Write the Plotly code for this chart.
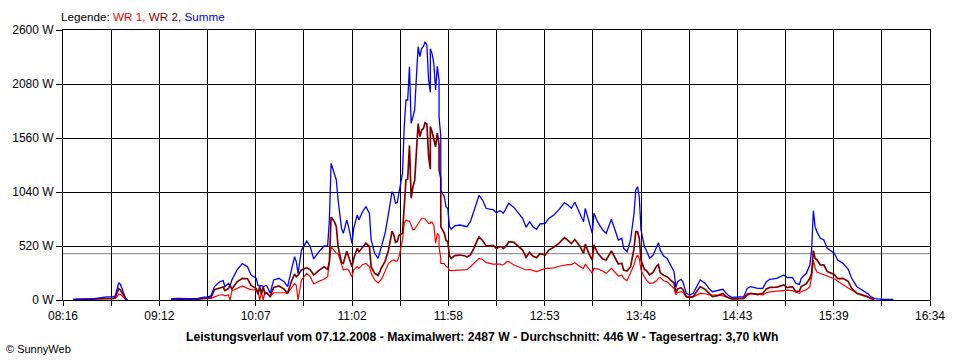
import plotly.graph_objects as go

# ---------------- data ----------------
times = [
    "08:22","08:27","08:33","08:36","08:39","08:41","08:45","08:46","08:47","08:48",
    "08:49","08:50","08:51","08:52","08:53","09:00","09:18","09:22","09:28","09:33",
    "09:37","09:39","09:41","09:43","09:46","09:48","09:49","09:51","09:52","09:53",
    "09:56","09:59","10:02","10:04","10:07","10:08","10:09","10:10","10:11","10:12",
    "10:13","10:15","10:17","10:20","10:23","10:25","10:27","10:29","10:30","10:31",
    "10:33","10:36","10:38","10:40","10:43","10:46","10:48","10:49","10:50","10:52",
    "10:53","10:54","10:56","10:57","10:59","11:00","11:02","11:03","11:05","11:06",
    "11:08","11:10","11:12","11:13","11:15","11:17","11:19","11:21","11:23","11:25",
    "11:26","11:27","11:28","11:29","11:31","11:32","11:33","11:34","11:35","11:36",
    "11:37","11:38","11:39","11:40","11:41","11:42","11:43","11:44","11:45","11:46",
    "11:47","11:47","11:48","11:49","11:50","11:51","11:52","11:52","11:53","11:53",
    "11:55","11:56","11:57","11:58","11:59","12:01","12:04","12:07","12:08","12:10",
    "12:12","12:14","12:15","12:17","12:19","12:21","12:23","12:25","12:27","12:28",
    "12:29","12:31","12:32","12:35","12:37","12:40","12:42","12:44","12:46","12:48",
    "12:50","12:53","12:55","12:58","13:01","13:04","13:06","13:08","13:10","13:13",
    "13:15","13:16","13:18","13:20","13:21","13:23","13:26","13:28","13:31","13:33",
    "13:35","13:37","13:38","13:40","13:42","13:44","13:45","13:46","13:47","13:48",
    "13:50","13:51","13:53","13:55","13:57","13:58","13:59","14:01","14:03","14:05",
    "14:07","14:08","14:09","14:11","14:12","14:14","14:16","14:18","14:20","14:22",
    "14:25","14:27","14:29","14:32","14:35","14:37","14:38","14:40","14:43","14:47",
    "14:49","14:51","14:55","14:58","15:00","15:02","15:06","15:10","15:12","15:15",
    "15:17","15:19","15:20","15:23","15:25","15:26","15:27","15:28","15:29","15:31",
    "15:33","15:35","15:39","15:41","15:44","15:47","15:49","15:52","15:55","15:58",
    "16:00","16:02","16:04","16:07","16:13",
]

wr1 = [
    3,4,5,8,12,14,14,15,30,58,
    55,40,20,5,0,None,5,7,6,6,
    13,14,15,30,48,50,40,48,0,87,
    110,135,112,100,96,85,0,80,0,75,
    70,30,70,71,70,64,110,160,140,0,
    193,257,225,154,180,200,225,400,513,470,
    450,450,330,289,300,290,225,290,321,305,
    340,353,320,257,193,165,200,270,353,380,
    385,375,375,417,578,738,770,760,760,720,
    674,680,706,740,770,787,787,780,760,738,
    740,750,750,720,546,642,620,513,400,353,
    350,325,315,282,282,285,289,289,292,320,
    353,385,401,390,360,353,345,345,345,337,
    340,369,370,337,325,305,289,295,285,273,
    285,305,305,310,325,337,340,340,359,320,
    305,345,305,257,305,300,280,257,305,270,
    231,240,209,186,257,340,400,433,400,289,
    220,193,160,165,185,210,218,185,176,145,
    110,50,70,80,75,30,20,30,48,64,
    60,50,48,48,40,32,25,16,16,16,
    64,64,60,48,70,78,85,96,96,90,
    80,64,80,100,128,225,385,305,270,257,
    240,225,205,180,144,115,96,64,45,30,
    20,8,None,None,None,
]

wr2 = [
    4,4,5,10,13,16,16,25,70,110,
    95,70,40,10,0,None,5,8,6,6,
    15,16,25,100,118,125,90,110,140,105,
    175,209,205,140,110,55,130,60,125,60,
    70,34,120,135,105,64,170,250,225,240,
    290,310,290,240,285,320,295,370,800,750,
    706,513,360,353,470,416,320,400,498,465,
    510,546,515,321,257,236,313,372,482,663,
    626,556,565,623,642,931,1156,1166,1487,981,
    1091,1150,1445,1699,1573,1636,1652,1707,1695,1380,
    1260,1670,1620,1559,1476,1608,1498,1252,1173,706,
    645,574,565,424,399,428,433,424,414,434,
    497,578,607,573,523,522,525,496,515,513,
    495,530,561,555,525,481,411,459,421,408,
    447,433,481,509,548,600,575,543,582,515,
    449,538,449,385,530,454,394,385,472,404,
    347,354,289,279,321,495,659,658,595,385,
    293,287,241,268,328,342,264,239,225,192,
    163,70,107,119,102,34,28,34,80,129,
    100,62,32,42,63,32,23,10,10,16,
    48,64,52,64,107,121,124,145,119,128,
    80,86,129,157,209,256,475,401,388,337,
    338,273,245,205,209,180,113,64,51,34,
    12,8,None,None,None,
]

summe = [
    7,8,10,18,25,30,30,40,100,167,
    150,110,60,15,0,None,10,15,12,12,
    28,30,40,130,176,186,128,160,140,193,
    290,350,320,241,209,140,135,140,130,135,
    140,64,193,209,177,128,289,417,369,257,
    481,568,513,395,465,520,520,770,1316,1220,
    1156,963,690,642,770,706,546,690,819,770,
    850,899,835,578,450,401,513,642,835,1043,
    1011,931,940,1040,1220,1669,1926,1926,2247,1701,
    1765,1830,2151,2439,2343,2423,2439,2487,2455,2118,
    2000,2420,2370,2279,2022,2250,2118,1765,1573,1059,
    995,899,880,706,681,713,722,713,706,754,
    850,963,1008,963,883,875,870,841,860,850,
    835,899,931,892,850,786,700,754,706,681,
    732,738,786,819,873,937,915,883,941,835,
    754,883,754,642,835,754,674,642,777,674,
    578,594,498,465,578,835,1059,1091,995,674,
    513,480,401,433,513,552,482,424,401,337,
    273,120,177,199,177,64,48,64,128,193,
    160,112,80,90,103,64,48,26,26,32,
    112,128,112,112,177,199,209,241,215,218,
    160,150,209,257,337,481,860,706,658,594,
    578,498,450,385,353,295,209,128,96,64,
    32,16,10,6,6,
]

x_tick_labels = ["08:16", "09:12", "10:07", "11:02", "11:58",
                 "12:53", "13:48", "14:43", "15:39", "16:34"]
y_tick_values = [0, 520, 1040, 1560, 2080, 2600]
average_w = 446
title_text = ("Leistungsverlauf vom 07.12.2008 - Maximalwert: 2487 W - "
              "Durchschnitt: 446 W - Tagesertrag: 3,70 kWh")

# ---------------- helpers ----------------
def to_min(s):
    h, m = s.split(":")
    return int(h) * 60 + int(m)

x = [to_min(t) for t in times]
x0 = to_min(x_tick_labels[0])
x1 = to_min(x_tick_labels[-1])
n_grid = 2 * (len(x_tick_labels) - 1)
grid_vals = [x0 + i * (x1 - x0) / n_grid for i in range(n_grid + 1)]
grid_text = [x_tick_labels[i // 2] if i % 2 == 0 else "" for i in range(n_grid + 1)]

FONT = "Liberation Sans, Arial, sans-serif"
RED, DARKRED, BLUE = "#FF0000", "#800000", "#0000FF"

fig = go.Figure()
fig.add_trace(go.Scatter(x=x, y=wr1, mode="lines", name="WR 1",
                         line=dict(color=RED, width=1.2), connectgaps=False))
fig.add_trace(go.Scatter(x=x, y=wr2, mode="lines", name="WR 2",
                         line=dict(color=DARKRED, width=1.7), connectgaps=False))
fig.add_trace(go.Scatter(x=x, y=summe, mode="lines", name="Summe",
                         line=dict(color=BLUE, width=1.3), connectgaps=False))

fig.add_shape(type="line", xref="paper", x0=0, x1=1, yref="y",
              y0=average_w, y1=average_w, line=dict(color="#808080", width=1),
              layer="below")

fig.update_layout(
    width=960, height=360,
    margin=dict(l=60, r=30, t=30, b=60),
    paper_bgcolor="white", plot_bgcolor="white",
    showlegend=False,
    font=dict(family=FONT, size=12, color="black"),
    xaxis=dict(
        range=[x0, x1], tickmode="array", tickvals=grid_vals, ticktext=grid_text,
        showgrid=True, gridcolor="black", gridwidth=1,
        showline=True, linecolor="black", linewidth=1, mirror=True,
        ticks="outside", ticklen=5, tickcolor="black", zeroline=False,
        tickfont=dict(family=FONT, size=12, color="black"),
    ),
    yaxis=dict(
        range=[0, 2600], tickmode="array", tickvals=y_tick_values,
        ticktext=[f"{v} W" for v in y_tick_values],
        showgrid=True, gridcolor="black", gridwidth=1,
        showline=True, linecolor="black", linewidth=1, mirror=True,
        ticks="outside", ticklen=6, tickcolor="black", zeroline=False,
        tickfont=dict(family=FONT, size=12, color="black"),
    ),
    annotations=[
        dict(xref="paper", yref="paper", x=-4 / 870, y=1 + 14 / 270,
             xanchor="left", yanchor="middle", showarrow=False,
             text=("Legende: <span style='color:%s'>WR 1,</span> "
                   "<span style='color:%s'>WR 2,</span> "
                   "<span style='color:%s'>Summe</span>") % (RED, DARKRED, BLUE),
             font=dict(family=FONT, size=11.7, color="black")),
        dict(xref="paper", yref="paper", x=(480 - 60) / 870, y=-37 / 270,
             xanchor="center", yanchor="middle", showarrow=False,
             text="<b>%s</b>" % title_text,
             font=dict(family=FONT, size=12.2, color="black")),
        dict(xref="paper", yref="paper", x=-59 / 870, y=-49 / 270,
             xanchor="left", yanchor="middle", showarrow=False,
             text="© SunnyWeb",
             font=dict(family=FONT, size=11, color="black")),
    ],
)

fig.write_html("out.html",
               config={"displayModeBar": False},
               post_script="document.body.style.margin='0';"
                           "document.body.style.padding='0';")
